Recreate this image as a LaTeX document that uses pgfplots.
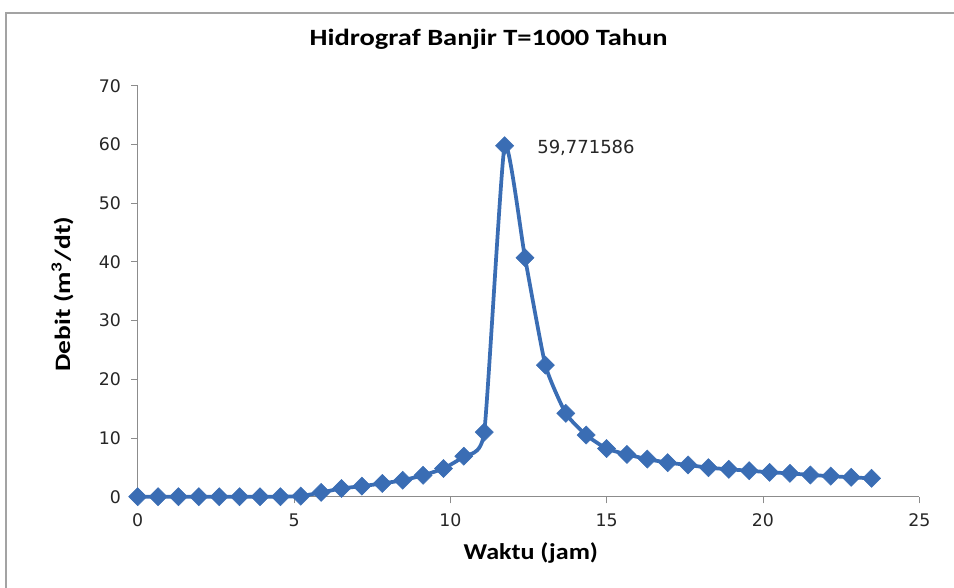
\documentclass[border=0pt]{standalone}
\usepackage{pgfplots}
\pgfplotsset{compat=1.18}
\usepackage{fontspec}
\setmainfont{Carlito}
\newfontfamily\dejavu{DejaVu Sans}
\definecolor{serblue}{HTML}{3A6DB4}
\definecolor{axgray}{HTML}{8C8C8C}
\begin{document}
\begin{tikzpicture}[x=0.75pt,y=0.75pt]
\useasboundingbox (-137.7,-91.3) rectangle (816.3,496.7);
\draw[axgray!80,line width=0.9pt] (-131.7,-95) -- (-131.7,483.7) -- (820,483.7);
\begin{axis}[
  at={(0,0)}, anchor=south west,
  scale only axis, width=586.2pt, height=308.25pt,
  xmin=0, xmax=25, ymin=0, ymax=70,
  xtick={0,5,...,25}, ytick={0,10,...,70},
  axis x line=bottom, axis y line=left,
  axis line style={axgray, line width=0.7pt, -},
  tick style={axgray, line width=0.7pt},
  tick align=outside, major tick length=5pt,
  x tick label style={yshift=-4.5pt},
  y tick label style={xshift=-4pt},
  tick label style={font=\dejavu\fontsize{13}{15}\selectfont, text=black!85},
  /pgf/number format/assume math mode=true,
  title={\scalebox{1.22}[1]{\textbf{Hidrograf Banjir T=1000 Tahun}}},
  title style={at={(axis description cs:0.449,1.078)}, anchor=base, font=\fontsize{17.5}{20}\selectfont},
  xlabel={\scalebox{1.15}[1]{\textbf{Waktu (jam)}}},
  xlabel style={at={(axis description cs:0.503,-0.154)}, anchor=base, font=\fontsize{17}{19}\selectfont},
  ylabel={\scalebox{1.25}[1]{\textbf{Debit (m\textsuperscript{3}/dt)}}},
  ylabel style={at={(axis description cs:-0.0866,0.493)}, anchor=base, font=\fontsize{16.5}{18}\selectfont},
  clip=false,
]
\addplot[serblue, line width=2.8pt, smooth, tension=0.3, mark=square*, mark size=4.8pt, mark options={rotate=45, fill=serblue, draw=serblue, line width=0.4pt}] coordinates {
(0.000,0) (0.652,0) (1.304,0) (1.956,0) (2.608,0) (3.260,0) (3.912,0) (4.564,0)
(5.216,0.1) (5.868,0.73) (6.520,1.4) (7.172,1.8) (7.824,2.25) (8.476,2.8)
(9.128,3.65) (9.780,4.8) (10.432,6.9) (11.084,11.0) (11.736,59.771586)
(12.388,40.7) (13.040,22.4) (13.692,14.2) (14.344,10.5) (14.996,8.2)
(15.648,7.2) (16.300,6.4) (16.952,5.8) (17.604,5.4) (18.256,4.94)
(18.908,4.66) (19.560,4.43) (20.212,4.15) (20.864,3.98) (21.516,3.7)
(22.168,3.5) (22.820,3.3) (23.472,3.13)
};
\node[anchor=base west, font=\dejavu\fontsize{13.5}{15}\selectfont, text=black!85] at ([xshift=21pt,yshift=-6pt]axis cs:11.736,59.771586) {59,771586};
\end{axis}
\end{tikzpicture}
\end{document}
